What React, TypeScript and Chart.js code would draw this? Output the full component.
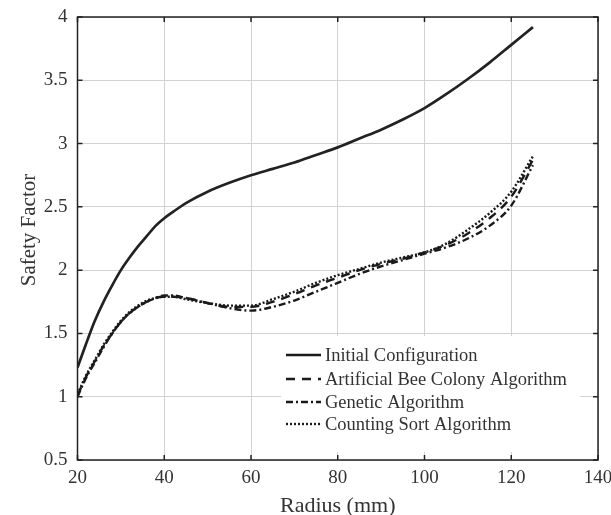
import React, { useEffect, useRef } from "react";
import { Chart, registerables } from "chart.js";

Chart.register(...registerables);

const radius = [20, 22, 24, 26, 28, 30, 32, 34, 36, 38, 40, 42, 45, 50, 55, 60, 65, 70, 75, 80, 85, 90, 95, 100, 105, 110, 115, 120, 125];
const initialConfig = [1.23, 1.42, 1.6, 1.75, 1.88, 2.0, 2.1, 2.19, 2.27, 2.35, 2.41, 2.46, 2.53, 2.62, 2.69, 2.75, 2.8, 2.85, 2.91, 2.97, 3.04, 3.11, 3.19, 3.28, 3.39, 3.51, 3.64, 3.78, 3.92];
const beeColony = [1.01, 1.16, 1.28, 1.4, 1.5, 1.59, 1.66, 1.71, 1.75, 1.78, 1.79, 1.79, 1.78, 1.74, 1.71, 1.71, 1.75, 1.81, 1.88, 1.94, 2.0, 2.05, 2.09, 2.14, 2.2, 2.29, 2.41, 2.58, 2.87];
const genetic = [1.0, 1.15, 1.27, 1.39, 1.5, 1.59, 1.66, 1.71, 1.75, 1.78, 1.8, 1.8, 1.78, 1.74, 1.7, 1.68, 1.71, 1.76, 1.83, 1.9, 1.97, 2.03, 2.08, 2.13, 2.18, 2.25, 2.35, 2.51, 2.83];
const countingSort = [1.02, 1.17, 1.29, 1.41, 1.51, 1.6, 1.67, 1.72, 1.76, 1.78, 1.79, 1.79, 1.77, 1.74, 1.72, 1.72, 1.77, 1.83, 1.9, 1.96, 2.01, 2.06, 2.1, 2.14, 2.21, 2.32, 2.45, 2.62, 2.9];

const seriesLabels = ["Initial Configuration", "Artificial Bee Colony Algorithm", "Genetic Algorithm", "Counting Sort Algorithm"];
const xTicks = [20, 40, 60, 80, 100, 120, 140];
const yTicks = [0.5, 1, 1.5, 2, 2.5, 3, 3.5, 4];
const xTitle = "Radius (mm)";
const yTitle = "Safety Factor";

const FONT = "'Liberation Serif', 'Times New Roman', serif";
const TEXT = "#333";
const dashes: number[][] = [[], [9, 7], [7, 3, 2, 3], [2, 2]];

const framePlugin = {
  id: "frame",
  afterDraw(chart: any) {
    const { ctx, chartArea: a, scales } = chart;
    ctx.save();
    ctx.strokeStyle = "#222";
    ctx.lineWidth = 1.5;
    ctx.beginPath();
    xTicks.forEach((t) => {
      const px = scales.x.getPixelForValue(t);
      ctx.moveTo(px, a.bottom);
      ctx.lineTo(px, a.bottom - 5);
      ctx.moveTo(px, a.top);
      ctx.lineTo(px, a.top + 5);
    });
    yTicks.forEach((t) => {
      const py = scales.y.getPixelForValue(t);
      ctx.moveTo(a.left, py);
      ctx.lineTo(a.left + 5, py);
      ctx.moveTo(a.right, py);
      ctx.lineTo(a.right - 5, py);
    });
    ctx.stroke();
    ctx.strokeRect(a.left, a.top, a.right - a.left, a.bottom - a.top);

    ctx.fillStyle = TEXT;
    ctx.textAlign = "center";
    ctx.textBaseline = "alphabetic";
    ctx.font = `22px ${FONT}`;
    ctx.fillText(xTitle, (a.left + a.right) / 2, 512);
    ctx.save();
    ctx.translate(35, 230);
    ctx.rotate(-Math.PI / 2);
    ctx.font = `21px ${FONT}`;
    ctx.fillText(yTitle, 0, 0);
    ctx.restore();
    ctx.restore();
  },
};

const legendPlugin = {
  id: "insideLegend",
  afterDatasetsDraw(chart: any) {
    const { ctx } = chart;
    const boxL = 281, boxT = 336, boxR = 580, boxB = 452;
    ctx.save();
    ctx.fillStyle = "#fff";
    ctx.fillRect(boxL, boxT, boxR - boxL, boxB - boxT);
    const rows = [355, 379, 402, 424];
    ctx.font = `18.5px ${FONT}`;
    ctx.textBaseline = "middle";
    ctx.textAlign = "left";
    chart.data.datasets.forEach((ds: any, i: number) => {
      const y = rows[i];
      ctx.strokeStyle = "#1a1a1a";
      ctx.lineWidth = 2.4;
      ctx.setLineDash(dashes[i]);
      ctx.beginPath();
      ctx.moveTo(286, y);
      ctx.lineTo(321, y);
      ctx.stroke();
      ctx.setLineDash([]);
      ctx.fillStyle = TEXT;
      ctx.fillText(ds.label, 325, y + 1);
    });
    ctx.restore();
  },
};

export default function App() {
  const ref = useRef<HTMLCanvasElement>(null);
  useEffect(() => {
    if (!ref.current) return;
    const all = [initialConfig, beeColony, genetic, countingSort];
    const chart = new Chart(ref.current, {
      type: "line",
      data: {
        datasets: all.map((vals, i) => ({
          label: seriesLabels[i],
          data: radius.map((r, j) => ({ x: r, y: vals[j] })),
          borderColor: i === 0 ? "#222" : "#1a1a1a",
          borderWidth: i === 0 ? 2.7 : 2.4,
          borderDash: dashes[i],
          pointRadius: 0,
          fill: false,
          cubicInterpolationMode: "monotone" as const,
        })),
      },
      options: {
        animation: false,
        responsive: false,
        maintainAspectRatio: false,
        layout: { padding: { top: 17, right: 13, left: 0, bottom: 0 } },
        plugins: { legend: { display: false }, tooltip: { enabled: false } },
        scales: {
          x: {
            type: "linear",
            min: 20,
            max: 140,
            afterFit: (s: any) => {
              s.height = 55;
              s.paddingLeft = 0;
              s.paddingRight = 0;
            },
            afterBuildTicks: (s: any) => { s.ticks = xTicks.map((v) => ({ value: v })); },
            grid: { color: "#d2d2d2", lineWidth: 1, drawTicks: false },
            border: { display: false },
            ticks: { color: TEXT, font: { family: FONT, size: 19 }, padding: 7, maxRotation: 0 },
          },
          y: {
            type: "linear",
            min: 0.5,
            max: 4,
            afterFit: (s: any) => {
              s.width = 77.5;
              s.paddingTop = 0;
              s.paddingBottom = 0;
            },
            afterBuildTicks: (s: any) => { s.ticks = yTicks.map((v) => ({ value: v })); },
            grid: { color: "#d2d2d2", lineWidth: 1, drawTicks: false },
            border: { display: false },
            ticks: { color: TEXT, font: { family: FONT, size: 19 }, padding: 10, callback: (v: any) => String(v) },
          },
        },
      },
      plugins: [legendPlugin, framePlugin],
    });
    return () => chart.destroy();
  }, []);
  return (
    <div style={{ position: "fixed", left: 0, top: 0, width: 611, height: 515, background: "#fff" }}>
      <canvas ref={ref} width={611} height={515} style={{ width: 611, height: 515 }} />
    </div>
  );
}
